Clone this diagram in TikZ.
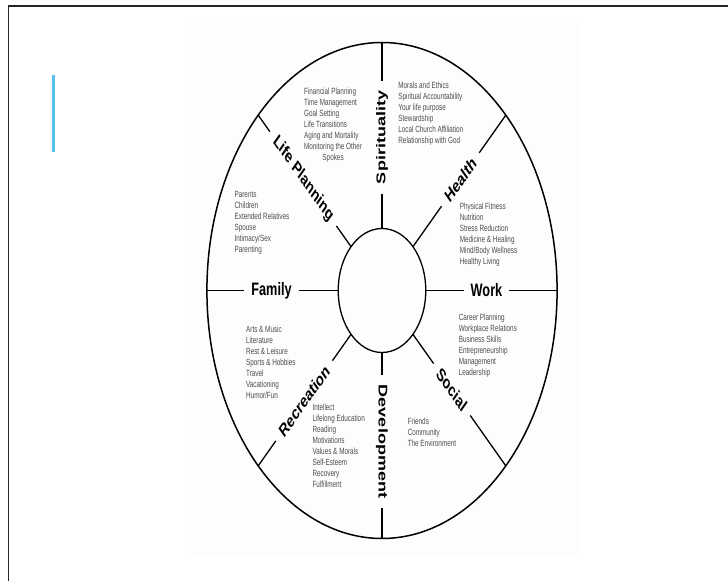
\documentclass[tikz,border=0pt]{standalone}
\usepackage{fontspec}
\setmainfont{Liberation Sans}
\usetikzlibrary{positioning}
\definecolor{barblue}{RGB}{90,190,240}
\tikzstyle{rim} = [draw,line width=1.5pt,circle,inner sep=0,outer sep=0,minimum size=496pt]
\tikzstyle{hub} = [draw,line width=1.3pt,circle,inner sep=0,outer sep=0,minimum size=124pt]
\tikzstyle{spoke} = [-,line width=1.3pt]
\tikzstyle{area} = [inner xsep=10pt,inner ysep=0,font=\bfseries\fontsize{18}{20}\selectfont]
\tikzstyle{items} = [anchor=north west,align=left,inner sep=0,text=black!70,font=\fontsize{9}{11}\selectfont]
\def \up {3.5}

\begin{document}
\begin{tikzpicture}[x=1pt,y=1pt]
  \useasboundingbox (0,0) rectangle (728,581);
  \fill[black!0.6] (186,25) rectangle (580,559);
  \draw[line width=1.8pt,black!85] (8.5,0) -- (8.5,575) -- (728,575);
  \draw[line width=2.2pt,barblue] (53.5,506) -- (53.5,429);
  \begin{scope}[shift={(382,290.5)},xscale=0.706,transform shape]
    \node[rim] (rim) at (0,0) {};
    \node[hub] (hub) at (0,0) {};
    \node[area,rotate=90] (spi) at (90:153) {Spirituality};
    \node[area,rotate=-90] (dev) at (-90:151) {Development};
    \node[area] (fam) at (180:156.5) {Family};
    \node[area] (work) at (0:148) {Work};
    \node[area,rotate=-45] (lp) at (135:158) {Life Planning};
    \node[area,rotate=45] (hea) at (45:157) {Health};
    \node[area,rotate=45] (rec) at (225:156) {Recreation};
    \node[area,rotate=-45] (soc) at (-45:140) {Social};
    \draw[spoke] (hub.north) -- (spi.west);
    \draw[spoke] (spi.east) -- (rim.north);
    \draw[spoke] (hub.south) -- (dev.west);
    \draw[spoke] (dev.east) -- (rim.south);
    \draw[spoke] (rim.west) -- (fam.west);
    \draw[spoke] (fam.east) -- (hub.west);
    \draw[spoke] (hub.east) -- (work.west);
    \draw[spoke] (work.east) -- (rim.east);
    \draw[spoke] (rim.135) -- (lp.west);
    \draw[spoke] (lp.east) -- (hub.135);
    \draw[spoke] (hub.45) -- (hea.west);
    \draw[spoke] (hea.east) -- (rim.45);
    \draw[spoke] (rim.225) -- (rec.west);
    \draw[spoke] (rec.east) -- (hub.225);
    \draw[spoke] (hub.-45) -- (soc.west);
    \draw[spoke] (soc.east) -- (rim.-45);
    \node[items] (lpitems) at (-110.5,199.5+\up) {Financial Planning\\Time Management\\Goal Setting\\Life Transitions\\Aging and Mortality\\Monitoring the Other\\\hspace*{26pt}Spokes};
    \node[items] (spiitems) at (23,205+\up) {Morals and Ethics\\Spiritual Accountability\\Your life purpose\\Stewardship\\Local Church Affiliation\\Relationship with God};
    \node[items] (famitems) at (-209,96+\up) {Parents\\Children\\Extended Relatives\\Spouse\\Intimacy/Sex\\Parenting};
    \node[items] (heaitems) at (110,83.8+\up) {Physical Fitness\\Nutrition\\Stress Reduction\\Medicine \& Healing\\Mind/Body Wellness\\Healthy Living};
    \node[items] (workitems) at (108.6,-26.3+\up) {Career Planning\\Workplace Relations\\Business Skills\\Entrepreneurship\\Management\\Leadership};
    \node[items] (recitems) at (-192.6,-38.5+\up) {Arts \& Music\\Literature\\Rest \& Leisure\\Sports \& Hobbies\\Travel\\Vacationing\\Humor/Fun};
    \node[items] (devitems) at (-98.6,-117+\up) {Intellect\\Lifelong Education\\Reading\\Motivations\\Values \& Morals\\Self-Esteem\\Recovery\\Fulfillment};
    \node[items] (socitems) at (36.3,-130.8+\up) {Friends\\Community\\The Environment};
  \end{scope}
\end{tikzpicture}
\end{document}
